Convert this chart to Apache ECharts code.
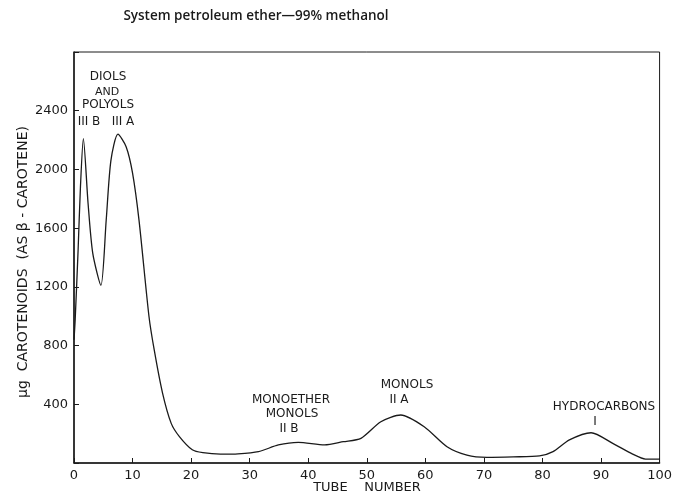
<!DOCTYPE html>
<html>
<head>
<meta charset="utf-8">
<script src="https://cdn.jsdelivr.net/npm/echarts@6/dist/echarts.min.js"></script>
<style>
  html, body { margin: 0; padding: 0; background: #fff; }
  #chart { width: 675px; height: 497px; }
</style>
</head>
<body>
<div id="chart"></div>
<script>
// tube number vs. carotenoid amount
var tubes = [0, 0.2, 0.7, 1.1, 1.6, 2.4, 3.2, 4.6, 5.5, 6.3, 7.5, 8.9, 10, 11.1, 12.8, 13.7, 15.1, 16.6, 18, 20.2,
  22, 25, 28, 31.5, 34.9, 38.3, 42.8, 46, 49, 52.4, 55.8, 59.8, 63.7, 67.1, 70.5, 75, 79.5, 81.8, 84.6, 88.3,
  92, 95.4, 97.6, 100];
var carotenoids = [840, 975, 1450, 1880, 2210, 1770, 1430, 1210, 1655, 2060, 2240, 2155, 1975, 1655, 1000, 770, 480, 270, 180, 90,
  70, 60, 62, 77, 123, 141, 123, 145, 168, 281, 327, 247, 111, 54, 39, 42, 48, 77, 157, 206,
  134, 61, 27, 27];
var yTicks = [400, 800, 1200, 1600, 2000, 2400];

var chart = echarts.init(document.getElementById('chart'));
var font = 'DejaVu Sans';
var ink = '#1a1a1a';

function label(text, x, y, size) {
  return {
    type: 'text', x: x, y: y,
    style: { text: text, fill: ink, font: (size || 12) + 'px "' + font + '"', textAlign: 'center', textVerticalAlign: 'middle' }
  };
}

var points = tubes.map(function (t, i) { return [t, carotenoids[i]]; });

chart.setOption({
  backgroundColor: '#fff',
  animation: false,
  grid: { left: 74, right: 11, top: 52, bottom: 34, show: true, borderColor: ink, borderWidth: 1 },
  xAxis: {
    type: 'value', min: 0, max: 100, interval: 10,
    axisLine: { lineStyle: { color: ink, width: 1.5 } },
    axisTick: { inside: true, length: 5, lineStyle: { color: ink } },
    axisLabel: { color: ink, fontFamily: font, fontSize: 13, margin: 6 },
    splitLine: { show: false }
  },
  yAxis: {
    type: 'value', min: 0, max: 2800, interval: 400,
    axisLine: { show: true, lineStyle: { color: ink, width: 1.5 } },
    axisTick: { show: true, inside: true, length: 5, lineStyle: { color: ink } },
    axisLabel: {
      color: ink, fontFamily: font, fontSize: 13, margin: 6,
      formatter: function (v) { return yTicks.indexOf(v) >= 0 ? String(v) : ''; }
    },
    splitLine: { show: false }
  },
  series: [{
    type: 'line',
    data: points,
    smooth: 0.25,
    showSymbol: false,
    lineStyle: { color: ink, width: 1.3 }
  }],
  graphic: [
    { type: 'text', x: 256, y: 16, style: { text: 'System petroleum ether\u201499% methanol', fill: ink, font: '600 13.5px "Open Sans"', textAlign: 'center', textVerticalAlign: 'middle' } },
    { type: 'text', x: 367, y: 488, style: { text: 'TUBE    NUMBER', fill: ink, font: '13px "' + font + '"', textAlign: 'center', textVerticalAlign: 'middle' } },
    {
      type: 'text', x: 23, y: 262, rotation: Math.PI / 2,
      style: { text: '\u03bcg  CAROTENOIDS  (AS \u03b2 - CAROTENE)', fill: ink, font: '14px "' + font + '"', textAlign: 'center', textVerticalAlign: 'middle' }
    },
    label('DIOLS', 108, 77),
    label('AND', 107, 92, 11),
    label('POLYOLS', 108, 105),
    label('III B', 89, 122),
    label('III A', 123, 122),
    label('MONOETHER', 291, 400),
    label('MONOLS', 292, 414),
    label('II B', 289, 429),
    label('MONOLS', 407, 385),
    label('II A', 399, 400),
    label('HYDROCARBONS', 604, 407),
    label('I', 595, 422)
  ]
});
</script>
</body>
</html>
